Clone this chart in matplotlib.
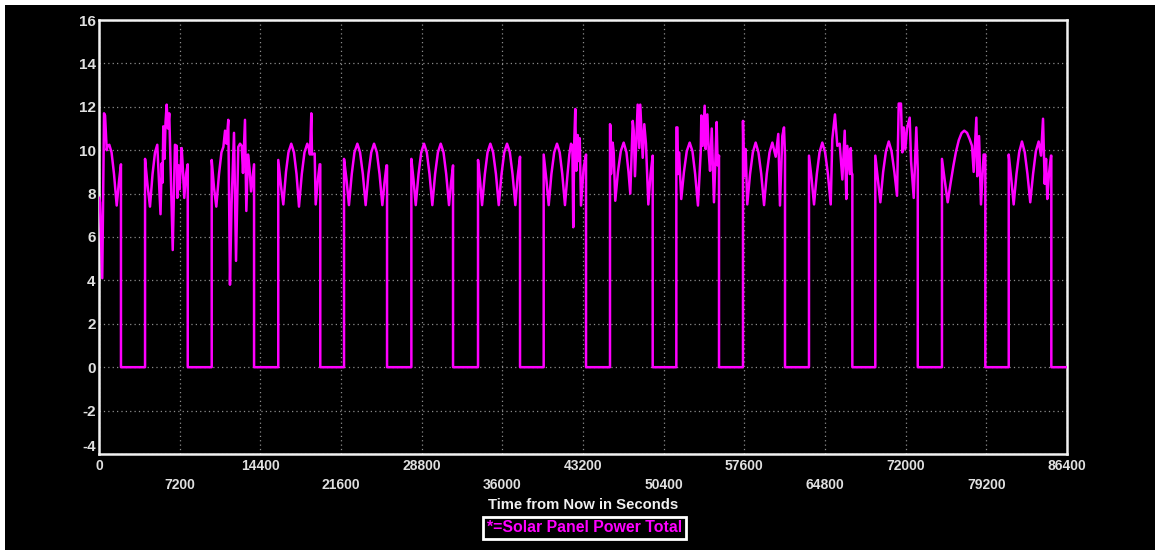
import matplotlib
matplotlib.use("Agg")
import matplotlib.pyplot as plt
from matplotlib.lines import Line2D
from matplotlib.patches import Rectangle

plt.rcParams['font.family'] = ['Liberation Sans', 'DejaVu Sans']

# (seconds from now, watts) per sunlit pass; each pass ends with the drop into eclipse
pass_00 = [(0, 7.8), (90, 7.6), (290, 4.1), (450, 11.7), (540, 11.6), (690, 10.0), (760, 10.2),
           (920, 10.25), (1120, 9.9), (1340, 8.9), (1580, 7.45), (1790, 8.6), (1960, 9.35), (1960, 0.0)]
pass_01 = [(4110, 0.0), (4110, 9.6), (4330, 8.4), (4550, 7.4), (4780, 8.9), (5000, 9.9), (5200, 10.25),
           (5490, 7.05), (5600, 9.4), (5670, 8.5), (5740, 11.1), (5850, 9.6), (5940, 11.3), (6040, 12.1),
           (6160, 11.0), (6270, 11.7), (6580, 5.4), (6780, 10.25), (6940, 10.2), (6990, 7.8), (7110, 9.3),
           (7190, 8.2), (7380, 10.1), (7450, 9.5), (7610, 7.8), (7770, 8.9), (7920, 9.35), (7920, 0.0)]
pass_02 = [(10060, 0.0), (10060, 9.55), (10260, 8.3), (10470, 7.4), (10710, 8.9), (10930, 9.9),
           (11100, 10.15), (11250, 10.9), (11380, 10.3), (11540, 11.4), (11690, 3.8), (11830, 7.5),
           (12050, 10.8), (12230, 4.9), (12430, 10.15), (12590, 10.3), (12740, 10.2), (12850, 8.95),
           (13030, 11.4), (13150, 7.2), (13300, 9.8), (13430, 9.2), (13570, 8.1), (13840, 9.35), (13840, 0.0)]
pass_03 = [(16000, 0.0), (16000, 9.55), (16230, 8.4), (16450, 7.5), (16690, 9.0), (16910, 9.9),
           (17160, 10.3), (17400, 9.9), (17630, 8.9), (17850, 7.4), (18100, 8.9), (18340, 9.9),
           (18590, 10.3), (18720, 10.1), (18830, 9.8), (18950, 11.7), (19010, 9.8), (19250, 9.85),
           (19340, 7.5), (19550, 8.7), (19700, 9.35), (19750, 9.35), (19750, 0.0)]
pass_04 = [(21870, 0.0), (21870, 9.6), (22090, 8.65), (22310, 7.47), (22560, 8.9), (22800, 9.9),
           (23060, 10.3), (23300, 9.9), (23550, 8.9), (23800, 7.47), (24050, 8.9), (24300, 9.9),
           (24550, 10.3), (24800, 9.9), (25040, 8.9), (25290, 7.47), (25480, 8.5), (25660, 9.3),
           (25710, 9.3), (25710, 0.0)]
pass_05 = [(27880, 0.0), (27880, 9.6), (28070, 8.65), (28270, 7.47), (28520, 8.9), (28760, 9.9),
           (29010, 10.3), (29260, 9.9), (29500, 8.9), (29750, 7.47), (30000, 8.9), (30250, 9.9),
           (30500, 10.3), (30750, 9.9), (30990, 8.9), (31240, 7.47), (31420, 8.5), (31600, 9.3), (31600, 0.0)]
pass_06 = [(33830, 0.0), (33830, 9.55), (34010, 8.6), (34190, 7.47), (34440, 8.9), (34680, 9.9),
           (34930, 10.3), (35180, 9.9), (35430, 8.9), (35680, 7.47), (35930, 8.9), (36170, 9.9),
           (36420, 10.3), (36670, 9.9), (36910, 8.9), (37160, 7.47), (37370, 8.8), (37580, 9.7), (37580, 0.0)]
pass_07 = [(39690, 0.0), (39690, 9.8), (39920, 8.7), (40140, 7.47), (40380, 8.9), (40630, 9.9),
           (40880, 10.3), (41120, 9.9), (41350, 8.9), (41590, 7.47), (41820, 8.9), (41980, 9.8),
           (42130, 10.3), (42250, 10.2), (42330, 6.45), (42420, 10.4), (42510, 11.9), (42600, 9.05),
           (42730, 10.7), (42820, 9.5), (42910, 10.55), (43020, 7.45), (43260, 9.2), (43470, 9.8), (43470, 0.0)]
pass_08 = [(45610, 0.0), (45610, 11.2), (45670, 11.1), (45700, 8.9), (45850, 10.35), (45940, 9.9),
           (46080, 7.67), (46320, 9.0), (46570, 9.95), (46830, 10.35), (47080, 9.9), (47260, 9.0),
           (47420, 8.0), (47640, 11.35), (47730, 10.9), (47840, 8.8), (47960, 10.4), (48080, 12.1),
           (48220, 10.1), (48310, 12.1), (48440, 10.6), (48530, 9.65), (48670, 11.2), (48820, 10.3),
           (49030, 7.5), (49230, 8.9), (49420, 9.75), (49420, 0.0)]
pass_09 = [(51530, 0.0), (51530, 11.05), (51630, 11.05), (51680, 8.9), (51770, 9.9), (51970, 7.75),
           (52210, 9.0), (52460, 9.95), (52720, 10.35), (52970, 9.95), (53210, 8.9), (53460, 7.45),
           (53710, 9.95), (53760, 11.6), (53880, 10.2), (54060, 12.05), (54150, 10.05), (54300, 11.65),
           (54420, 9.9), (54540, 9.05), (54690, 11.0), (54800, 9.2), (54890, 7.6), (55130, 11.3),
           (55220, 9.3), (55340, 9.75), (55340, 0.0)]
pass_10 = [(57480, 0.0), (57480, 11.35), (57570, 8.8), (57720, 10.05), (57860, 7.5), (58110, 8.9),
           (58360, 9.9), (58610, 10.35), (58860, 9.9), (59110, 8.9), (59360, 7.47), (59600, 8.9),
           (59850, 9.9), (60100, 10.35), (60400, 9.7), (60630, 10.75), (60780, 7.45), (60990, 10.65),
           (61140, 11.05), (61230, 9.75), (61230, 0.0)]
pass_11 = [(63370, 0.0), (63370, 9.75), (63600, 8.7), (63820, 7.5), (64070, 8.9), (64310, 9.9),
           (64560, 10.35), (64810, 9.9), (65060, 8.9), (65310, 7.5), (65450, 10.5), (65690, 11.65),
           (65900, 10.2), (66110, 10.3), (66350, 8.65), (66560, 10.9), (66700, 7.75), (66790, 10.2),
           (67010, 8.9), (67100, 10.1), (67180, 8.9), (67240, 8.9), (67240, 0.0)]
pass_12 = [(69290, 0.0), (69290, 9.75), (69510, 8.7), (69740, 7.6), (69990, 9.0), (70240, 9.95),
           (70490, 10.4), (70740, 9.95), (70990, 9.0), (71230, 7.9), (71380, 12.15), (71580, 12.15),
           (71700, 9.9), (71830, 11.05), (71970, 10.05), (72120, 11.0), (72360, 11.5), (72480, 9.5),
           (72720, 7.8), (72950, 11.05), (73080, 9.1), (73080, 0.0)]
pass_13 = [(75240, 0.0), (75240, 9.6), (75490, 8.6), (75750, 7.6), (76000, 8.45), (76250, 9.25),
           (76490, 9.93), (76740, 10.46), (76990, 10.79), (77230, 10.9), (77480, 10.8), (77720, 10.5),
           (77920, 10.2), (78070, 9.0), (78310, 11.5), (78390, 8.8), (78550, 10.65), (78720, 7.5),
           (78960, 9.8), (79110, 9.8), (79110, 0.0)]
pass_14 = [(81200, 0.0), (81200, 9.8), (81420, 8.7), (81640, 7.5), (81890, 8.9), (82130, 9.9),
           (82380, 10.4), (82630, 9.9), (82870, 8.9), (83120, 7.6), (83370, 8.9), (83620, 9.95),
           (83870, 10.4), (84080, 9.75), (84260, 11.45), (84410, 8.45), (84530, 9.6), (84640, 7.75),
           (84790, 8.9), (84970, 9.75), (85000, 9.75), (85000, 0.0), (86400, 0.0)]

x_major = [0, 14400, 28800, 43200, 57600, 72000, 86400]
x_minor = [7200, 21600, 36000, 50400, 64800, 79200]
y_ticks = [-4, -2, 0, 2, 4, 6, 8, 10, 12, 14, 16]

passes = [pass_00, pass_01, pass_02, pass_03, pass_04, pass_05, pass_06, pass_07,
          pass_08, pass_09, pass_10, pass_11, pass_12, pass_13, pass_14]
time_s = [t for p in passes for t, _ in p]
power_w = [w for p in passes for _, w in p]

W, H = 1155, 550
fig = plt.figure(figsize=(W / 100, H / 100), dpi=100, facecolor='black')
ax = fig.add_axes([99 / W, 96 / H, 968 / W, 434 / H])
ax.set_facecolor('black')

ax.plot(time_s, power_w, color='#ff00ff', lw=1.8, zorder=3)
ax.set_xlim(0, 86400)
ax.set_ylim(-4, 16)

ax.set_xticks(x_major, labels=[str(v) for v in x_major])
ax.set_xticks(x_minor, labels=[str(v) for v in x_minor], minor=True)
ax.set_yticks(y_ticks, labels=[str(v) for v in y_ticks])
ax.tick_params(axis='x', which='major', length=0, pad=3.5, labelsize=10, labelcolor='#e0e0e0')
ax.tick_params(axis='x', which='minor', length=0, pad=17.5, labelsize=10, labelcolor='#e0e0e0')
ax.tick_params(axis='y', length=0, pad=2.5, labelsize=11, labelcolor='#e0e0e0')
for lbl in ax.get_xticklabels(which='both') + ax.get_yticklabels():
    lbl.set_fontweight('bold')
# lowest y label sits a little above its gridline
ax.yaxis.get_major_ticks()[0].label1.set_verticalalignment('bottom')

grid_kw = dict(color='#8c8c8c', linestyle=(0, (1, 2.5)), linewidth=0.9)
ax.grid(True, axis='x', which='both', **grid_kw)
ax.grid(True, axis='y', which='major', **grid_kw)
ax.set_axisbelow(True)

for sp in ax.spines.values():
    sp.set_color('#f2f2f2')
    sp.set_linewidth(1.8)

fig.text(583 / W, 1 - 505 / H, "Time from Now in Seconds", ha='center', va='center',
         color='#f0f0f0', fontsize=10.7, fontweight='bold')

leg = fig.text(584.5 / W, 1 - 528 / H, "*=Solar Panel Power Total", ha='center', va='center',
               color='#ff00ff', fontsize=11.4, fontweight='bold',
               bbox=dict(boxstyle='square,pad=0.22', facecolor='black', edgecolor='white', linewidth=2))

# underline the legend entry
fig.canvas.draw()
bb = leg.get_window_extent()
inv = fig.transFigure.inverted()
(x0, y0), (x1, _) = inv.transform([(bb.x0, bb.y0 - 1), (bb.x1, bb.y0 - 1)])
fig.add_artist(Line2D([x0, x1], [y0, y0], transform=fig.transFigure, color='#ff00ff', lw=1.5))

# white strips along the top and left edges of the window capture
fig.add_artist(Rectangle((0, 1 - 5 / H), 1, 5 / H, transform=fig.transFigure,
                         facecolor='white', edgecolor='none'))
fig.add_artist(Rectangle((0, 0), 5 / W, 1, transform=fig.transFigure,
                         facecolor='white', edgecolor='none'))

fig.savefig('out.png', dpi=100, facecolor='black')
